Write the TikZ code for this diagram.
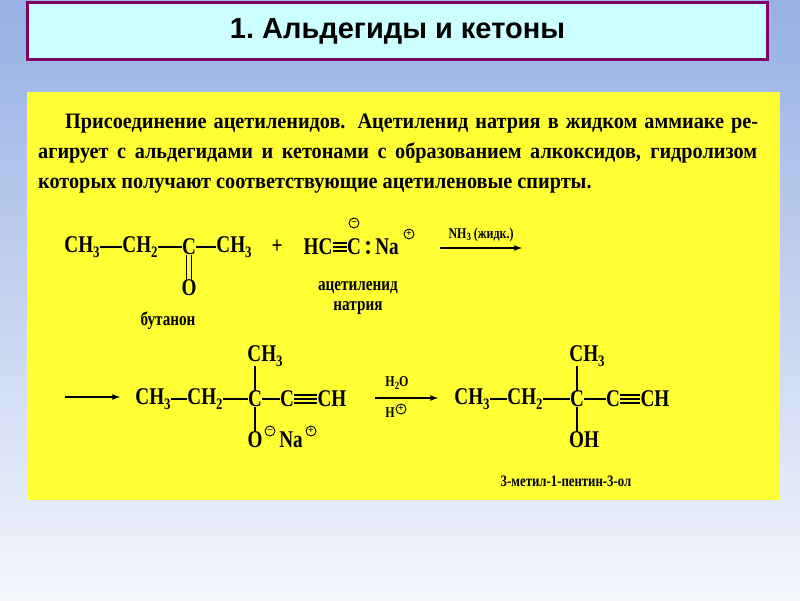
\documentclass[tikz,border=0pt]{standalone}
\usepackage{fontspec}
\setmainfont{Liberation Serif}
\newfontfamily\titlefont{Liberation Sans}
\newfontfamily\chem[FakeStretch=0.8]{Liberation Serif}
\newfontfamily\txt[FakeStretch=0.92]{Liberation Serif}
\newcommand{\chsub}[1]{\raisebox{-0.4ex}{\fontsize{16}{16}\selectfont #1}}
\definecolor{bgtop}{RGB}{150,176,228}
\definecolor{bgbot}{RGB}{244,246,252}
\definecolor{ttl}{RGB}{204,255,255}
\definecolor{brd}{RGB}{128,0,100}
\definecolor{yel}{RGB}{255,255,51}
\tikzset{
 atom/.style={inner sep=0pt,font=\chem\fontsize{24}{24}\selectfont\bfseries},
 lab/.style={inner sep=0pt,font=\chem\fontsize{19}{19}\selectfont\bfseries},
 small/.style={inner sep=0pt,font=\chem\fontsize{15}{15}\selectfont\bfseries},
 para/.style={anchor=base west,inner sep=0pt,font=\txt\fontsize{22}{22}\selectfont\bfseries},
 bond/.style={line width=1.6pt},
 chg/.style={circle,draw,line width=0.9pt,inner sep=0pt,minimum size=10pt,font=\fontsize{10}{10}\selectfont\bfseries},
 arr/.style={line width=1.6pt,-latex}
}
\begin{document}
\begin{tikzpicture}[x=1pt,y=-1pt]
\shade[top color=bgtop,bottom color=bgbot] (0,0) rectangle (800,600);
\useasboundingbox (0,0) rectangle (800,600);
\node[draw=brd,line width=2.5pt,fill=ttl,minimum width=740pt,minimum height=57pt,font=\titlefont\fontsize{29}{29}\selectfont\bfseries] (title) at (397.5,31) {1.~Альдегиды и кетоны};
\node[fill=yel,minimum width=753pt,minimum height=408pt,inner sep=0pt] (box) at (403.5,296) {};
% paragraph
\node[para] (l1) at (65,128) {\spaceskip=.25em plus 1fil minus .15em\hbox to 693pt{Присоединение ацетиленидов. Ацетиленид натрия в жидком аммиаке ре-}};
\node[para] (l2) at (38,158) {\spaceskip=.25em plus 1fil minus .15em\hbox to 719pt{агирует с альдегидами и кетонами с образованием алкоксидов, гидролизом}};
\node[para] (l3) at (38,188) {которых получают соответствующие ацетиленовые спирты.};
% row 1
\node[atom] (a1) at (82,247) {CH\chsub{3}};
\node[atom] (a2) at (140,247) {CH\chsub{2}};
\node[atom] (a3) at (189,247) {C};
\node[atom] (a4) at (234,247) {CH\chsub{3}};
\node[atom] (ao) at (189,288) {O};
\draw[bond] (a1) -- (a2); \draw[bond] (a2) -- (a3); \draw[bond] (a3) -- (a4);
\draw[bond] ([xshift=-2.5pt]a3.south) -- ([xshift=-2.5pt]ao.north);
\draw[bond] ([xshift=2.5pt]a3.south) -- ([xshift=2.5pt]ao.north);
\node[atom] (plus) at (277,247) {+};
\node[atom] (hc) at (318,247) {HC};
\node[atom] (c2) at (354,247) {C};
\node[atom] (na) at (387,247) {Na};
\node[chg] (m1) at (354,223) {\raisebox{0.5pt}{--}};
\node[chg] (p1) at (409,234) {+};
\fill (368,243) circle (2pt) (368,252) circle (2pt);
\foreach \d in {-4,0,4}{\draw[line width=1.2pt] ([yshift=\d pt]hc.east) -- ([yshift=\d pt]c2.west);}
\node[lab] (bt) at (168,321) {бутанон};
\node[lab] (ac) at (358,288) {ацетиленид};
\node[lab] (nt) at (358,308) {натрия};
\coordinate (r1s) at (440,248); \coordinate (r1e) at (522,248);
\draw[arr] (r1s) -- (r1e);
\node[small,anchor=south] (nh3) at (481,242) {NH\raisebox{-0.3ex}{\fontsize{11}{11}\selectfont 3} (жидк.)};
% row 2
\coordinate (r2s) at (65,397); \coordinate (r2e) at (120,397);
\draw[arr] (r2s) -- (r2e);
\node[atom] (b1) at (153,399) {CH\chsub{3}};
\node[atom] (b2) at (205,399) {CH\chsub{2}};
\node[atom] (b3) at (255,399) {C};
\node[atom] (b4) at (287,399) {C};
\node[atom] (b5) at (332,399) {CH};
\node[atom] (b6) at (265,356) {CH\chsub{3}};
\node[atom] (bo) at (255,440) {O};
\node[atom] (bna) at (291,440) {Na};
\node[chg] (m2) at (270,431) {\raisebox{0.5pt}{--}};
\node[chg] (p2) at (311,431) {+};
\draw[bond] (b1) -- (b2); \draw[bond] (b2) -- (b3); \draw[bond] (b3) -- (b4);
\draw[bond] (b3.north) -- (b3.north |- b6.south); \draw[bond] (b3) -- (bo);
\foreach \d in {-4,0,4}{\draw[line width=1.2pt] ([yshift=\d pt]b4.east) -- ([yshift=\d pt]b5.west);}
\coordinate (r3s) at (375,398); \coordinate (r3e) at (438,398);
\draw[arr] (r3s) -- (r3e);
\node[small] (h2o) at (397,383) {H\raisebox{-0.3ex}{\fontsize{11}{11}\selectfont 2}O};
\node[small] (hp) at (390,413) {H};
\node[chg] (p3) at (401,409) {+};
\node[atom] (c1) at (472,399) {CH\chsub{3}};
\node[atom] (c2b) at (525,399) {CH\chsub{2}};
\node[atom] (c3) at (577,399) {C};
\node[atom] (c4) at (613,399) {C};
\node[atom] (c5) at (655,399) {CH};
\node[atom] (c6) at (587,356) {CH\chsub{3}};
\node[atom] (coh) at (584,440) {OH};
\draw[bond] (c1) -- (c2b); \draw[bond] (c2b) -- (c3); \draw[bond] (c3) -- (c4);
\draw[bond] (c3.north) -- (c3.north |- c6.south); \draw[bond] (c3) -- (c3 |- coh.north);
\foreach \d in {-4,0,4}{\draw[line width=1.2pt] ([yshift=\d pt]c4.east) -- ([yshift=\d pt]c5.west);}
\node[lab,font=\chem\fontsize{16}{16}\selectfont\bfseries] (nm) at (566,481) {3-метил-1-пентин-3-ол};
\end{tikzpicture}
\end{document}
